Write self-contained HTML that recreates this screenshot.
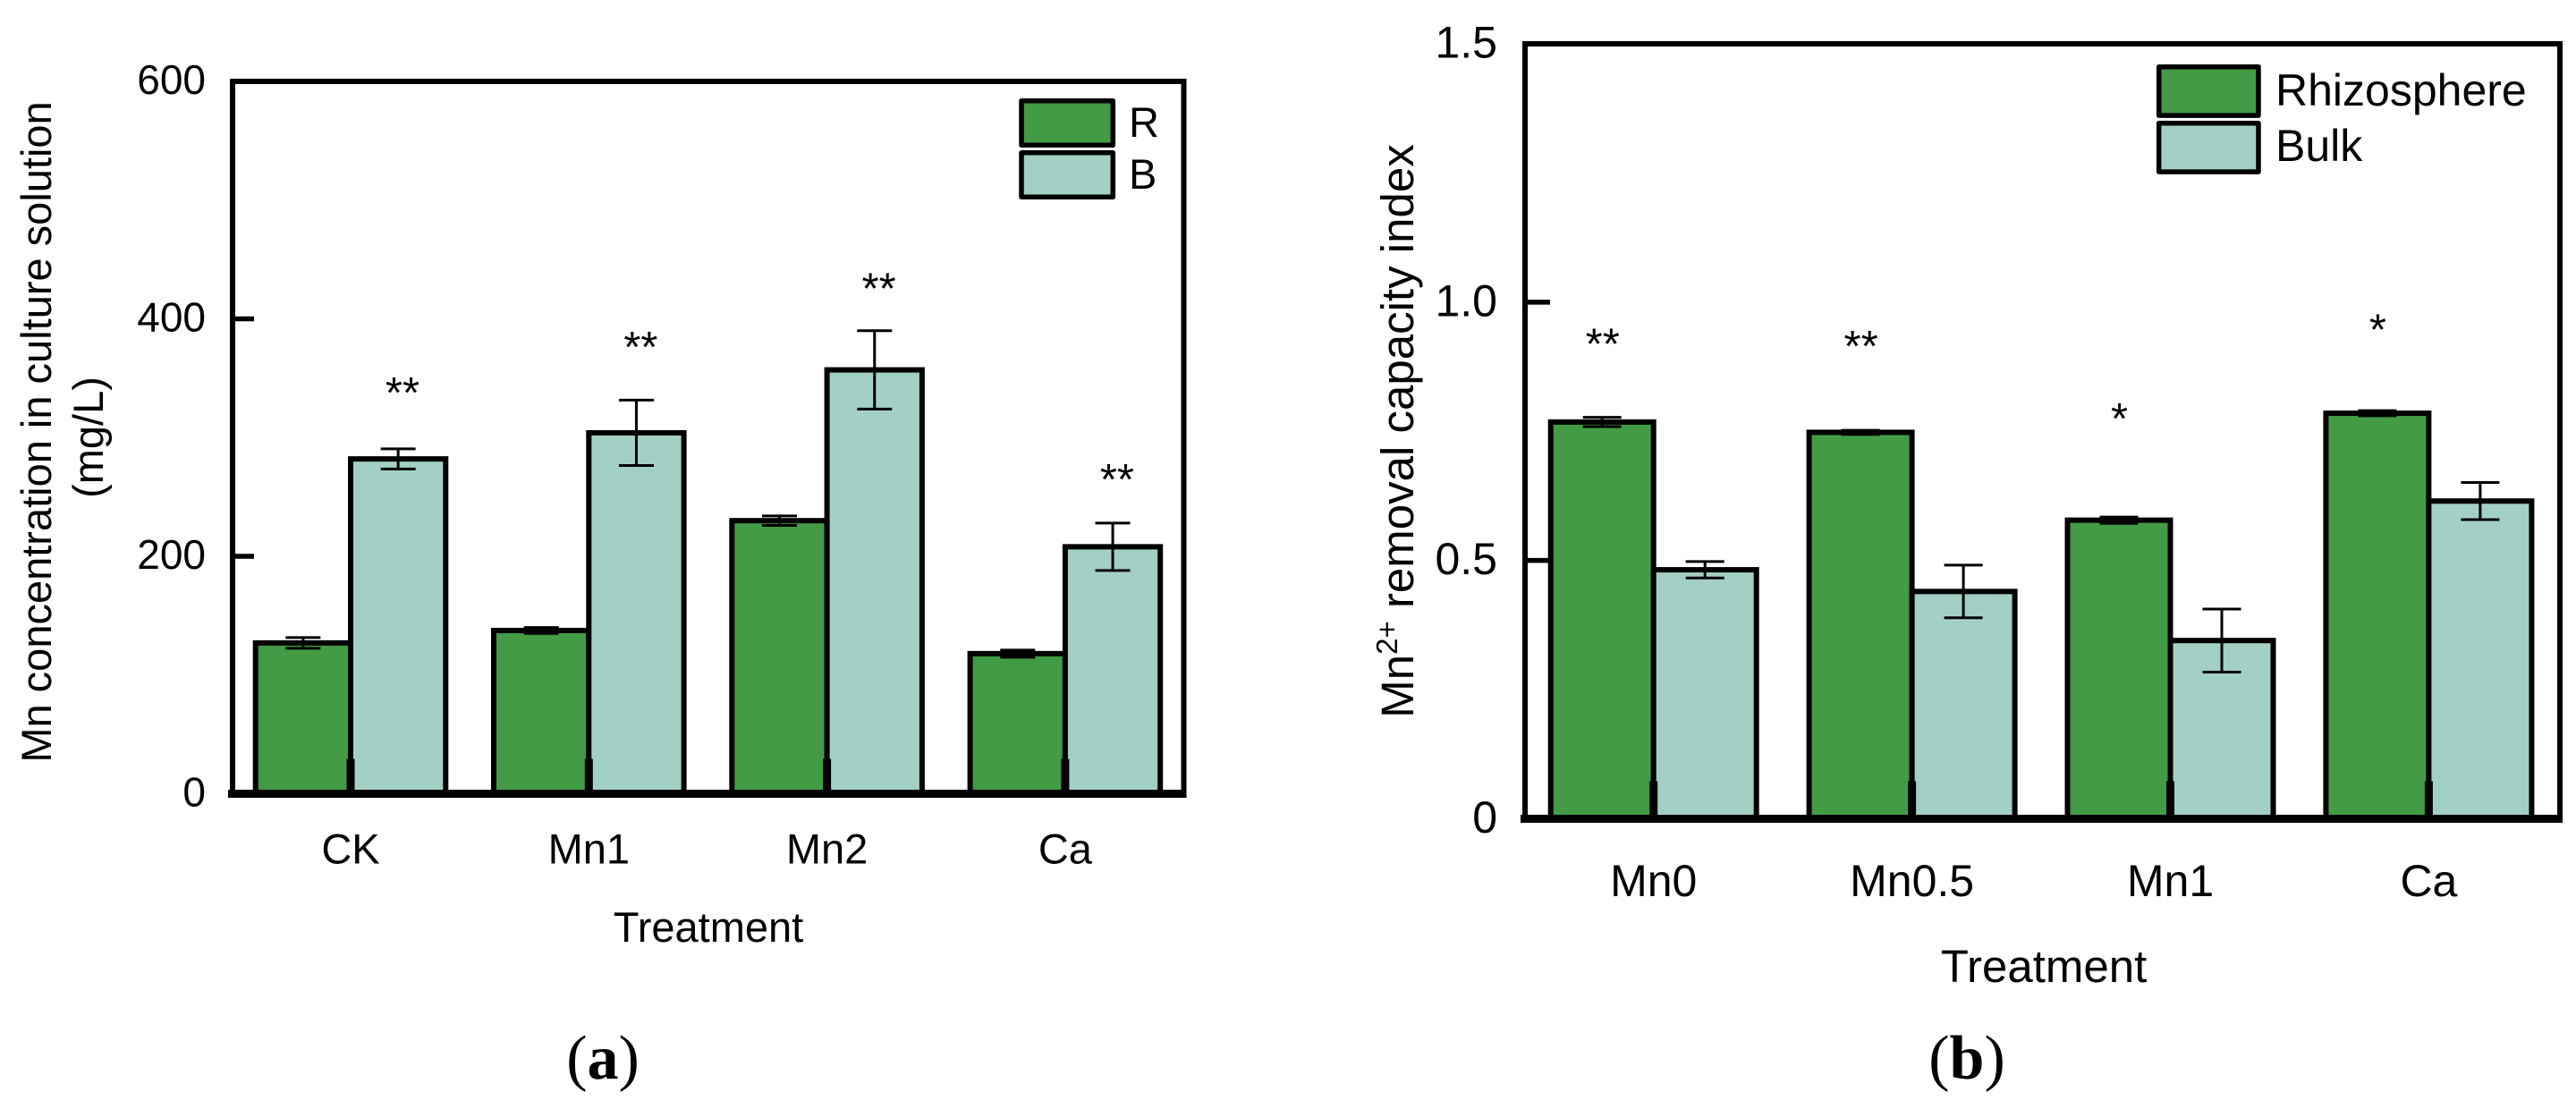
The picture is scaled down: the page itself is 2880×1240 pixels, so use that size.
<!DOCTYPE html>
<html lang="en">
<head>
<meta charset="utf-8">
<title>Mn concentration and removal capacity charts</title>
<style>
html,body{margin:0;padding:0;background:#fff;}
svg{display:block;}
text{font-family:"Liberation Sans",Arial,sans-serif;fill:#000;}
.cap{font-family:"Liberation Serif",serif;font-size:70px;}
</style>
</head>
<body>
<svg id="root" xmlns="http://www.w3.org/2000/svg" width="2880" height="1240" viewBox="0 0 2880 1240">
  <g id="panel-a">
    <text transform="translate(57,483) rotate(-90)" text-anchor="middle" font-size="47">Mn concentration in culture solution</text>
    <text transform="translate(115,489) rotate(-90)" text-anchor="middle" font-size="47">(mg/L)</text>
    <text x="792" y="1053" text-anchor="middle" font-size="47">Treatment</text>
    <text x="1262" y="153" font-size="47">R</text>
    <text x="1262" y="211" font-size="47">B</text>
  </g>
  <g id="panel-b">
    <text transform="translate(1580,482) rotate(-90)" text-anchor="middle" font-size="51">Mn<tspan font-size="33" dy="-18">2+</tspan><tspan dy="18"> removal capacity index</tspan></text>
    <text x="2285" y="1098" text-anchor="middle" font-size="51">Treatment</text>
    <text x="2544" y="118" font-size="50">Rhizosphere</text>
    <text x="2544" y="180" font-size="50">Bulk</text>
  </g>
  <text class="cap" x="674" y="1206" text-anchor="middle">(<tspan font-weight="bold">a</tspan>)</text>
  <text class="cap" x="2199" y="1206" text-anchor="middle">(<tspan font-weight="bold">b</tspan>)</text>
</svg>
<script>
// Panel (a) data
const categoriesA = ['CK', 'Mn1', 'Mn2', 'Ca'];
const seriesRA = [127, 137.5, 230, 118];
const seriesBA = [282, 304, 357, 208];
const errorRA = [4.5, 2.5, 4, 3];
const errorBA = [8.5, 27.5, 33, 20];
const starsA = ['**', '**', '**', '**'];
const starLevelsA = [340, 378.5, 428, 267];
const yTickValuesA = [0, 200, 400, 600];
const yTickLabelsA = ['0', '200', '400', '600'];

// Panel (b) data
const categoriesB = ['Mn0', 'Mn0.5', 'Mn1', 'Ca'];
const seriesRB = [0.768, 0.748, 0.578, 0.785];
const seriesBB = [0.482, 0.44, 0.345, 0.615];
const errorRB = [0.009, 0.004, 0.006, 0.005];
const errorBB = [0.016, 0.051, 0.061, 0.036];
const starsB = ['**', '**', '*', '*'];
const starLevelsB = [0.924, 0.92, 0.78, 0.952];
const yTickValuesB = [0, 0.5, 1.0, 1.5];
const yTickLabelsB = ['0', '0.5', '1.0', '1.5'];

const GREEN = '#439b45';
const TEAL = '#a3d0c5';
const NS = 'http://www.w3.org/2000/svg';

function make(parent, tag, attrs, txt) {
  const n = document.createElementNS(NS, tag);
  for (const k in attrs) n.setAttribute(k, attrs[k]);
  if (txt !== undefined) n.textContent = txt;
  parent.appendChild(n);
  return n;
}

function drawPanel(g, o) {
  const yScale = v => o.y0 - (v / o.yMax) * (o.y0 - o.yTop);
  const xCenter = i => o.x0 + i * o.step;

  // Frame
  const frame = make(g, 'path', {d: `M${o.left} ${o.y0}V${o.yTop}H${o.right}V${o.y0}`, fill: 'none', stroke: '#000', 'stroke-width': 6});
  
  

  // Y ticks and labels
  o.tickValues.forEach((v, i) => {
    const y = yScale(v);
    if (v > 0 && v < o.yMax) {
      const tick = make(g, 'line', {x1: o.left, x2: o.left + o.tickLen, y1: y, y2: y, stroke: '#000', 'stroke-width': 5.5});
      
      
    }
    const label = make(g, 'text', {x: o.tickRight, y: y + o.tickBase, 'text-anchor': 'end', 'font-size': o.tickFont}, o.tickLabels[i]);
    
    
  });

  // Bars
  o.categories.forEach((c, i) => {
    const cx = xCenter(i);
    const rBar = make(g, 'rect', {x: cx - o.barW, y: yScale(o.r[i]), width: o.barW, height: o.y0 - yScale(o.r[i]), fill: GREEN, stroke: '#000', 'stroke-width': 6});
    
    
    const bBar = make(g, 'rect', {x: cx, y: yScale(o.b[i]), width: o.barW, height: o.y0 - yScale(o.b[i]), fill: TEAL, stroke: '#000', 'stroke-width': 6});
    
    

    // Error bars
    [[cx - o.barW / 2, o.r[i], o.er[i]], [cx + o.barW / 2, o.b[i], o.eb[i]]].forEach(t => {
      const hi = yScale(t[1] + t[2]);
      const lo = yScale(t[1] - t[2]);
      const err = make(g, 'path', {
        d: `M${t[0] - o.capW} ${hi}H${t[0] + o.capW}M${t[0]} ${hi}V${lo}M${t[0] - o.capW} ${lo}H${t[0] + o.capW}`,
        fill: 'none', stroke: '#000', 'stroke-width': 3
      });
      
      
    });

    // X tick (thick stub at the group centre)
    const xt = make(g, 'rect', {x: cx - 4.5, y: o.y0 - o.stubLen, width: 9, height: o.stubLen, fill: '#000'});
    
    

    const xl = make(g, 'text', {x: cx, y: o.xLabelY, 'text-anchor': 'middle', 'font-size': o.xFont}, c);
    
    

    const sx = cx + o.starDx;
    const star = make(g, 'text', {x: sx, y: yScale(o.starLevels[i]) + o.starBase, 'text-anchor': 'middle', 'font-size': 49}, o.stars[i]);
    
    
  });

  // X axis line
  const ax = make(g, 'rect', {x: o.left - 5, y: o.y0 - 4.5, width: o.right - o.left + 8, height: 9, fill: '#000'});
  
  

  // Legend swatches
  o.legend.forEach((row, i) => {
    const sw = make(g, 'rect', {x: row[0], y: row[1], width: row[2], height: row[3], fill: i ? TEAL : GREEN, stroke: '#000', 'stroke-width': 5.5, 'stroke-linejoin': 'round'});
    
    
  });
}

drawPanel(document.getElementById('panel-a'), {
  categories: categoriesA, r: seriesRA, b: seriesBA, er: errorRA, eb: errorBA,
  stars: starsA, starLevels: starLevelsA, tickValues: yTickValuesA, tickLabels: yTickLabelsA,
  yMax: 600, y0: 887.5, yTop: 91, left: 260, right: 1323.5,
  x0: 392, step: 266.3, barW: 106.3, capW: 19.5, tickLen: 24, stubLen: 39,
  tickRight: 230, tickBase: 14, tickFont: 46, xLabelY: 965.5, xFont: 47, starDx: 58, starBase: 20,
  legend: [[1142, 112.7, 102.3, 49.6], [1142, 170.7, 102.3, 49.6]]
});

drawPanel(document.getElementById('panel-b'), {
  categories: categoriesB, r: seriesRB, b: seriesBB, er: errorRB, eb: errorBB,
  stars: starsB, starLevels: starLevelsB, tickValues: yTickValuesB, tickLabels: yTickLabelsB,
  yMax: 1.5, y0: 915.5, yTop: 49, left: 1705, right: 2862,
  x0: 1848.7, step: 288.9, barW: 115, capW: 21.5, tickLen: 28, stubLen: 42,
  tickRight: 1674, tickBase: 15.5, tickFont: 50, xLabelY: 1002, xFont: 50, starDx: -57, starBase: 20,
  legend: [[2413.7, 74.7, 111.3, 54.4], [2413.7, 137.7, 111.3, 54.4]]
});
</script>
</body>
</html>
